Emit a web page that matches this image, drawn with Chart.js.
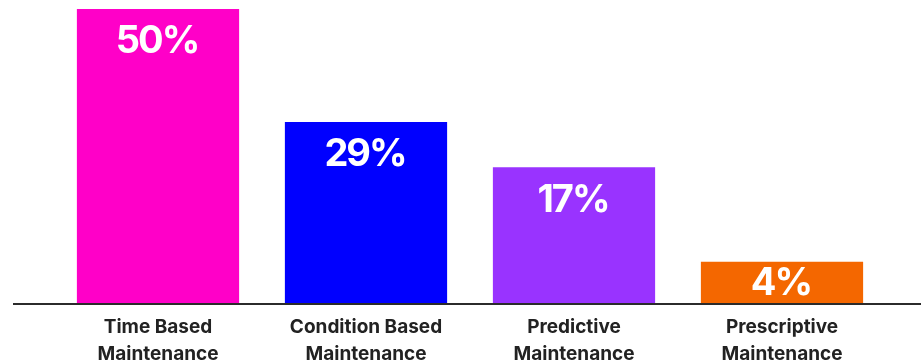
<!DOCTYPE html>
<html>
<head>
<meta charset="utf-8">
<script src="https://cdn.jsdelivr.net/npm/chart.js@4/dist/chart.umd.min.js"></script>
<style>
  html, body { margin: 0; padding: 0; background: #ffffff; }
  #wrap { width: 921px; height: 364px; }
</style>
</head>
<body>
<div id="wrap"><canvas id="c" width="921" height="364"></canvas></div>
<script>
// Categories (two-line labels)
const categories = [
  ['Time Based', 'Maintenance'],
  ['Condition Based', 'Maintenance'],
  ['Predictive', 'Maintenance'],
  ['Prescriptive', 'Maintenance']
];
// Bar lengths as drawn in the picture (scale where the first bar = 50)
const barLengths = [50, 30.8, 23.1, 7.0];
// Value labels printed on the bars
const valueLabels = ['50%', '29%', '17%', '4%'];
// Bar colours
const barColors = ['#FF00C8', '#0000FF', '#9933FF', '#F46700'];

const barLabelPlugin = {
  id: 'barLabels',
  afterDatasetsDraw(chart) {
    const ctx = chart.ctx;
    const meta = chart.getDatasetMeta(0);
    ctx.save();
    ctx.fillStyle = '#ffffff';
    ctx.font = '700 38px Inter, "Liberation Sans", sans-serif';
    try { ctx.letterSpacing = '-2px'; } catch (e) {}
    ctx.textAlign = 'center';
    ctx.textBaseline = 'middle';
    meta.data.forEach((bar, i) => {
      const top = bar.y, bottom = bar.base;
      const y = Math.min(top + 32, (top + bottom) / 2);
      ctx.fillText(valueLabels[i], bar.x - 1, y + 1);
    });
    ctx.restore();
  }
};

const baselinePlugin = {
  id: 'baseline',
  afterDatasetsDraw(chart) {
    const ctx = chart.ctx;
    const y = chart.scales.y.getPixelForValue(0) + 1;
    ctx.save();
    ctx.strokeStyle = '#2b2b2b';
    ctx.lineWidth = 2;
    ctx.beginPath();
    ctx.moveTo(13, y);
    ctx.lineTo(chart.width, y);
    ctx.stroke();
    ctx.restore();
  }
};

new Chart(document.getElementById('c'), {
  type: 'bar',
  data: {
    labels: categories,
    datasets: [{
      data: barLengths,
      backgroundColor: barColors,
      borderWidth: 0,
      barPercentage: 0.78,
      categoryPercentage: 1.0
    }]
  },
  options: {
    responsive: false,
    animation: false,
    devicePixelRatio: 1,
    layout: { padding: { left: 54, right: 35, top: 9, bottom: 0 } },
    plugins: {
      legend: { display: false },
      tooltip: { enabled: false }
    },
    scales: {
      x: {
        grid: { display: false, drawTicks: false },
        border: { display: false },
        ticks: {
          color: '#222222',
          font: { family: 'Inter, "Liberation Sans", sans-serif', size: 19, weight: '700', lineHeight: 1.4 },
          padding: 11,
          maxRotation: 0,
          autoSkip: false
        },
        afterFit(scale) { scale.height = 61; }
      },
      y: {
        display: false,
        min: 0,
        max: 50
      }
    }
  },
  plugins: [barLabelPlugin, baselinePlugin]
});
</script>
</body>
</html>
